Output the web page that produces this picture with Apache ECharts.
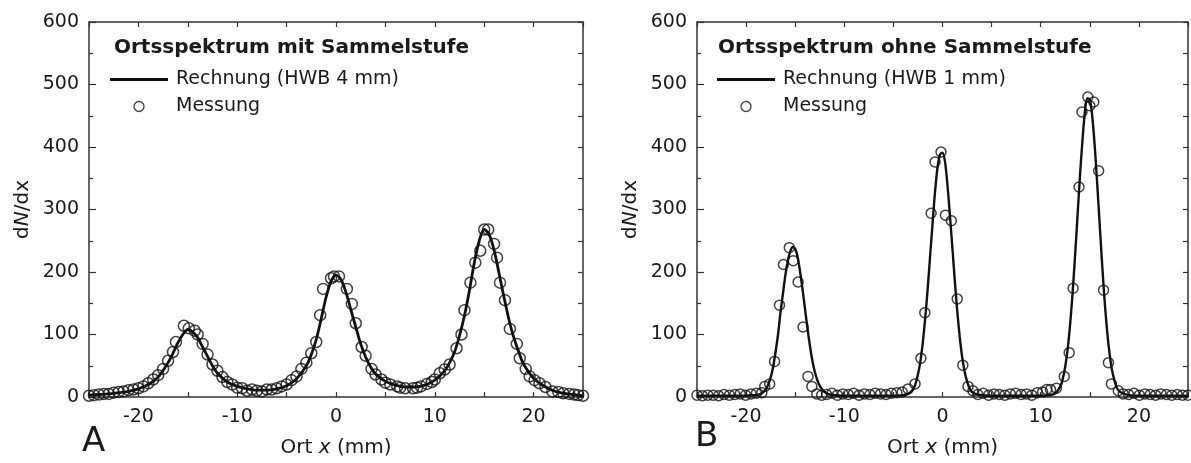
<!DOCTYPE html>
<html>
<head>
<meta charset="utf-8">
<script src="https://cdn.jsdelivr.net/npm/echarts@6/dist/echarts.min.js"></script>
<style>
  html, body { margin: 0; padding: 0; background: #fff; }
  #chart { width: 1191px; height: 463px; }
</style>
</head>
<body>
<div id="chart"></div>
<script>
// Panel A: position spectrum with collecting stage (calculation, FWHM 4 mm)
const calcA = [
  [-25, 3], [-24, 4], [-23, 5], [-22, 7], [-21, 9], [-20, 13], [-19, 20], [-18, 32],
  [-17, 55], [-16.5, 70], [-16, 87], [-15.5, 100], [-15, 108], [-14.5, 104], [-14, 95],
  [-13.5, 80], [-13, 65], [-12.5, 50], [-12, 38], [-11, 24], [-10, 17], [-9, 13], [-8, 11],
  [-7, 11], [-6, 13], [-5, 18], [-4, 29], [-3, 50], [-2.5, 68], [-2, 92], [-1.5, 125],
  [-1, 160], [-0.5, 185], [0, 195], [0.5, 188], [1, 168], [1.5, 140], [2, 112], [2.5, 85],
  [3, 64], [3.5, 48], [4, 37], [5, 25], [6, 19], [7, 16], [8, 16], [9, 19], [10, 27],
  [11, 42], [11.5, 55], [12, 72], [12.5, 98], [13, 130], [13.5, 170], [14, 215], [14.5, 250],
  [15, 268], [15.5, 260], [16, 235], [16.5, 198], [17, 160], [17.5, 124], [18, 95],
  [18.5, 72], [19, 52], [20, 30], [21, 18], [22, 10], [23, 6], [24, 4], [25, 2]
];

// Panel A: measured points
const measA = [
  [-25, 2], [-24.5, 3], [-24, 4], [-23.5, 5], [-23, 5], [-22.5, 7], [-22, 8], [-21.5, 9],
  [-21, 11], [-20.5, 12], [-20, 14], [-19.5, 17], [-19, 22], [-18.5, 28], [-18, 35],
  [-17.5, 45], [-17, 58], [-16.5, 72], [-16.2, 88], [-15.4, 114], [-14.9, 110], [-14.3, 106],
  [-14, 100], [-13.5, 85], [-13, 68], [-12.5, 52], [-12, 42], [-11.5, 32], [-11, 24],
  [-10.5, 20], [-10, 15], [-9.5, 14], [-9, 10], [-8.5, 12], [-8, 10], [-7.5, 9], [-7, 12],
  [-6.5, 12], [-6, 14], [-5.5, 17], [-5, 20], [-4.5, 27], [-4, 33], [-3.5, 45], [-3, 55],
  [-2.5, 70], [-2, 88], [-1.6, 131], [-1.3, 173], [-0.5, 190], [-0.2, 193], [0.3, 193],
  [1.1, 173], [1.6, 149], [2, 118], [2.6, 80], [3, 66], [3.6, 45], [4, 36], [4.6, 28],
  [5, 23], [5.5, 20], [6.2, 17], [6.5, 15], [7, 14], [7.8, 14], [8.2, 15], [8.6, 17],
  [9.2, 21], [9.7, 24], [10, 28], [10.5, 38], [11, 44], [11.5, 52], [12.2, 78], [12.7, 100],
  [13, 139], [13.6, 183], [14.1, 215], [14.6, 234], [15, 268], [15.4, 268], [16, 245],
  [16.3, 223], [16.6, 183], [17.1, 155], [17.6, 109], [18.3, 85], [18.6, 62], [19.2, 45],
  [19.6, 33], [20.1, 27], [20.6, 22], [21.2, 16], [21.9, 9], [22.5, 8], [23, 6], [23.6, 5],
  [24.1, 4], [24.5, 3], [25, 2]
];

// Panel B: position spectrum without collecting stage (calculation, FWHM 1 mm)
const calcB = [
  [-25, 2], [-24, 2], [-23, 2], [-22, 2], [-21, 2], [-20, 2], [-19.5, 3], [-19, 3],
  [-18.5, 5], [-18, 12], [-17.75, 20], [-17.5, 31], [-17.25, 48], [-17, 72], [-16.75, 100],
  [-16.5, 135], [-16.25, 165], [-16, 195], [-15.75, 218], [-15.5, 233], [-15.25, 240],
  [-15, 237], [-14.75, 224], [-14.5, 200], [-14.25, 172], [-14, 141], [-13.75, 110],
  [-13.5, 82], [-13.25, 58], [-13, 40], [-12.75, 27], [-12.5, 18], [-12.25, 12], [-12, 8],
  [-11.5, 4], [-11, 3], [-10, 2], [-9, 2], [-8, 2], [-7, 2], [-6, 2], [-5, 2], [-4, 3],
  [-3.5, 5], [-3, 12], [-2.75, 21], [-2.5, 36], [-2.25, 57], [-2, 88], [-1.75, 128],
  [-1.5, 175], [-1.25, 228], [-1, 280], [-0.75, 330], [-0.5, 368], [-0.25, 388], [0, 391],
  [0.25, 377], [0.5, 340], [0.75, 292], [1, 240], [1.25, 187], [1.5, 138], [1.75, 97],
  [2, 64], [2.25, 41], [2.5, 25], [2.75, 14], [3, 8], [3.5, 4], [4, 3], [5, 2], [6, 2],
  [7, 2], [8, 2], [9, 2], [10, 2], [11, 3], [11.5, 6], [12, 17], [12.25, 29], [12.5, 49],
  [12.75, 77], [13, 117], [13.25, 167], [13.5, 226], [13.75, 290], [14, 354], [14.25, 410],
  [14.5, 456], [14.75, 478], [15, 476], [15.25, 449], [15.5, 402], [15.75, 342], [16, 278],
  [16.25, 214], [16.5, 156], [16.75, 108], [17, 71], [17.25, 44], [17.5, 27], [17.75, 15],
  [18, 9], [18.5, 5], [19, 3], [20, 2], [21, 2], [22, 2], [23, 2], [24, 2], [25, 2]
];

// Panel B: measured points
const measB = [
  [-25, 3], [-24.45, 2], [-23.9, 3], [-23.35, 3], [-22.8, 2], [-22.25, 4], [-21.7, 3],
  [-21.15, 4], [-20.6, 5], [-20.05, 3], [-19.5, 5], [-18.95, 6], [-18.4, 7], [-18.1, 17],
  [-17.6, 21], [-17.1, 57], [-16.6, 147], [-16.2, 212], [-15.6, 239], [-15.2, 218],
  [-14.7, 184], [-14.2, 112], [-13.7, 33], [-13.3, 17], [-12.8, 5], [-12.3, 3], [-11.8, 4],
  [-11.25, 6], [-10.7, 3], [-10.15, 5], [-9.6, 4], [-9.05, 6], [-8.5, 3], [-7.95, 5],
  [-7.4, 4], [-6.85, 6], [-6.3, 5], [-5.75, 4], [-5.2, 6], [-4.65, 7], [-4.1, 8], [-3.5, 13],
  [-2.8, 21], [-2.2, 62], [-1.8, 135], [-1.16, 294], [-0.76, 376], [-0.15, 392], [0.3, 291],
  [0.9, 282], [1.5, 157], [2.07, 51], [2.6, 17], [3.1, 10], [3.6, 4], [4.15, 6], [4.7, 3],
  [5.25, 5], [5.8, 4], [6.35, 3], [6.9, 5], [7.45, 6], [8, 4], [8.55, 5], [9.1, 3],
  [9.65, 7], [10.2, 8], [10.6, 12], [11, 12], [11.6, 14], [12.4, 33], [12.9, 71],
  [13.3, 174], [13.9, 336], [14.2, 456], [14.8, 480], [15.0, 466], [15.4, 472], [15.9, 362],
  [16.4, 171], [16.9, 55], [17.2, 21], [17.9, 10], [18.4, 5], [18.95, 4], [19.5, 6],
  [20.05, 3], [20.6, 5], [21.15, 4], [21.7, 3], [22.25, 5], [22.8, 4], [23.35, 3],
  [23.9, 4], [24.45, 3], [25, 3]
];

const xRange = [-25, 25];
const yRange = [0, 600];
const titleA = 'Ortsspektrum mit Sammelstufe';
const titleB = 'Ortsspektrum ohne Sammelstufe';
const calcNameA = 'Rechnung (HWB 4 mm)';
const calcNameB = 'Rechnung (HWB 1 mm)';
const measName = 'Messung';

const FONT = 'DejaVu Sans';
const INK = '#1a1a1a';
const AXIS = '#333';

const richName = {
  n: { fontFamily: FONT, fontSize: 20, color: INK },
  i: { fontFamily: FONT, fontSize: 20, color: INK, fontStyle: 'italic' }
};

function bottomAxis(gridIndex) {
  return {
    type: 'value', gridIndex, min: xRange[0], max: xRange[1], interval: 5,
    position: 'bottom',
    name: '{n|Ort }{i|x}{n| (mm)}', nameLocation: 'middle', nameGap: 41,
    nameTextStyle: { rich: richName },
    axisLine: { show: true, onZero: false, lineStyle: { color: AXIS, width: 1.5 } },
    axisTick: { inside: true, length: 5, lineStyle: { color: AXIS, width: 1.2 } },
    axisLabel: {
      fontFamily: FONT, fontSize: 19, color: INK, margin: 11,
      formatter: v => (v % 10 === 0 ? String(v) : '')
    },
    splitLine: { show: false }
  };
}
function topAxis(gridIndex) {
  return {
    type: 'value', gridIndex, min: xRange[0], max: xRange[1], interval: 5,
    position: 'top',
    axisLine: { show: true, onZero: false, lineStyle: { color: AXIS, width: 1.5 } },
    axisTick: { inside: true, length: 5, lineStyle: { color: AXIS, width: 1.2 } },
    axisLabel: { show: false }, splitLine: { show: false }
  };
}
function leftAxis(gridIndex) {
  return {
    type: 'value', gridIndex, min: yRange[0], max: yRange[1], interval: 100,
    position: 'left',
    name: '{n|d}{i|N}{n|/dx}', nameLocation: 'middle', nameGap: 56, nameRotate: 90,
    nameTextStyle: { rich: richName },
    axisLine: { show: true, onZero: false, lineStyle: { color: AXIS, width: 1.5 } },
    axisTick: { inside: true, length: 7, lineStyle: { color: AXIS, width: 1.2 } },
    minorTick: { show: true, splitNumber: 2, length: 4, lineStyle: { color: AXIS, width: 1.2 } },
    axisLabel: { fontFamily: FONT, fontSize: 19, color: INK, margin: 10 },
    splitLine: { show: false }, minorSplitLine: { show: false }
  };
}
function rightAxis(gridIndex) {
  return {
    type: 'value', gridIndex, min: yRange[0], max: yRange[1], interval: 50,
    position: 'right',
    axisLine: { show: true, onZero: false, lineStyle: { color: AXIS, width: 1.5 } },
    axisTick: { inside: true, length: 5, lineStyle: { color: AXIS, width: 1.2 } },
    axisLabel: { show: false }, splitLine: { show: false }
  };
}

function calcSeries(name, data, xi, yi, width) {
  return {
    type: 'line', name, data, xAxisIndex: xi, yAxisIndex: yi,
    showSymbol: false, symbol: 'none', smooth: 0.3,
    lineStyle: { color: '#111', width },
    itemStyle: { color: '#111' },
    z: 2, silent: true, animation: false
  };
}
function measSeries(data, xi, yi, size) {
  return {
    type: 'scatter', name: measName, data, xAxisIndex: xi, yAxisIndex: yi,
    symbol: 'circle', symbolSize: size,
    itemStyle: { color: 'rgba(255,255,255,0)', borderColor: '#111', borderWidth: 1.5 },
    z: 3, silent: true, animation: false
  };
}

// thin bar used as the legend sample of the calculated curve
const LINE_ICON = 'path://M0,0L58,0L58,3L0,3Z';

function legendFor(left, calcName) {
  return {
    left, top: 70, padding: 0, orient: 'vertical', itemGap: 8, itemWidth: 58, itemHeight: 10,
    selectedMode: false,
    textStyle: { fontFamily: FONT, fontSize: 19, color: INK, padding: [0, 0, 0, 3] },
    data: [
      { name: calcName, icon: LINE_ICON, itemStyle: { color: '#111' } },
      { name: measName, icon: 'circle',
        itemStyle: { color: 'rgba(255,255,255,0)', borderColor: '#111', borderWidth: 1.3 } }
    ]
  };
}

const chart = echarts.init(document.getElementById('chart'), null, { renderer: 'canvas' });
chart.setOption({
  animation: false,
  backgroundColor: '#fff',
  grid: [
    { left: 89, right: 608, top: 22, bottom: 62 },
    { left: 697, right: 1, top: 22, bottom: 62 }
  ],
  title: [
    { text: titleA, left: 109, top: 33,
      textStyle: { fontFamily: FONT, fontSize: 20, fontWeight: 'bold', color: INK } },
    { text: titleB, left: 713, top: 33,
      textStyle: { fontFamily: FONT, fontSize: 20, fontWeight: 'bold', color: INK } }
  ],
  legend: [legendFor(110, calcNameA), legendFor(717, calcNameB)],
  xAxis: [bottomAxis(0), topAxis(0), bottomAxis(1), topAxis(1)],
  yAxis: [leftAxis(0), rightAxis(0), leftAxis(1), rightAxis(1)],
  series: [
    calcSeries(calcNameA, calcA, 0, 0, 2.8),
    measSeries(measA, 0, 0, 11),
    calcSeries(calcNameB, calcB, 2, 2, 2.4),
    measSeries(measB, 2, 2, 10)
  ],
  graphic: [
    { type: 'text', left: 82, top: 425,
      style: { text: 'A', fontFamily: FONT, fontSize: 34, fill: INK } },
    { type: 'text', left: 695, top: 420,
      style: { text: 'B', fontFamily: FONT, fontSize: 34, fill: INK } }
  ]
});
</script>
</body>
</html>
